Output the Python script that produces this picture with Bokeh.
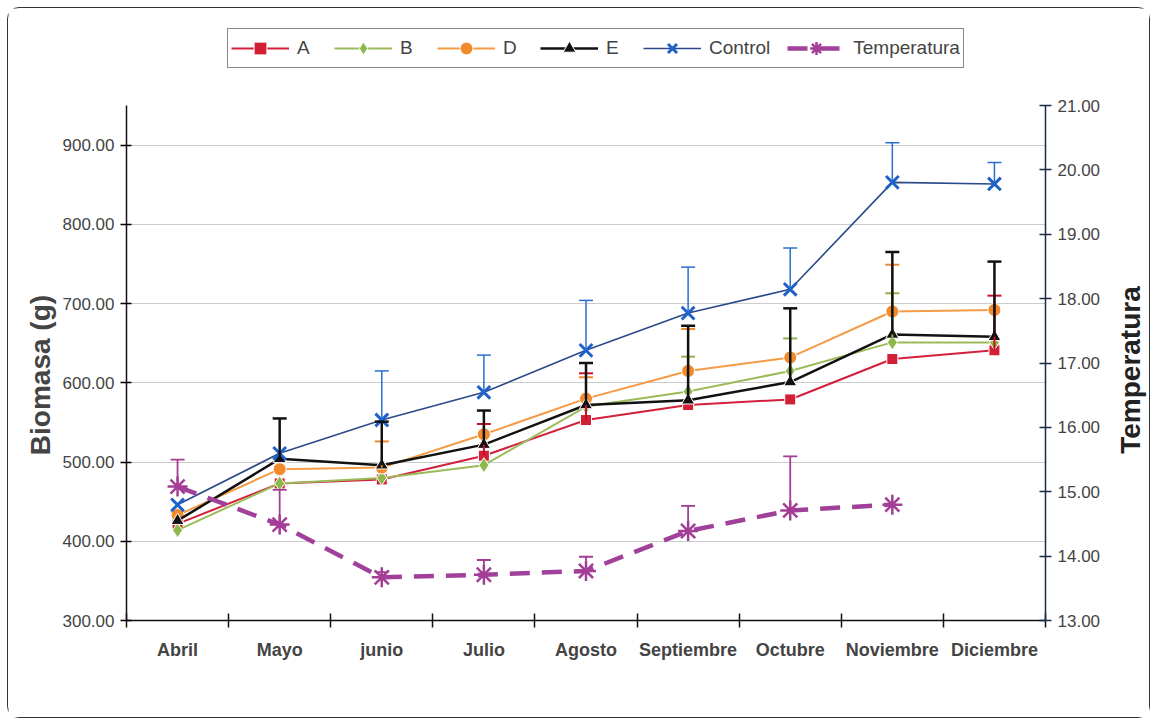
import math
from bokeh.plotting import figure
from bokeh.layouts import row
from bokeh.models import (LinearAxis, Range1d, FixedTicker, NumeralTickFormatter,
                          ColumnDataSource, Whisker, TeeHead, Legend, LegendItem)
from bokeh.core.properties import value
from bokeh.embed import file_html
from bokeh.resources import INLINE

# ---------------- data ----------------
months = ["Abril", "Mayo", "junio", "Julio", "Agosto", "Septiembre",
          "Octubre", "Noviembre", "Diciembre"]
A = [422, 473, 478, 508, 553, 572, 579, 630, 641]
B = [414, 473, 480, 496, 570, 589, 615, 651, 651]
D = [433, 491, 493, 535, 580, 615, 632, 690, 692]
E = [426, 504, 496, 522, 572, 578, 601, 661, 658]
control = [446, 511, 553, 588, 641, 688, 718, 853, 851]
temperatura = [15.08, 14.49, 13.67, 13.71, 13.77, 14.39, 14.71, 14.80]

A_err = [0, 0, 0, 40, 59, 0, 0, 0, 69]
B_err = [0, 0, 0, 0, 0, 44, 41, 62, 0]
D_err = [0, 0, 33, 0, 27, 53, 0, 59, 0]
E_err = [0, 51, 55, 43, 53, 94, 93, 104, 95]
control_err = [0, 0, 62, 47, 63, 58, 52, 50, 27]
temp_err = [0.42, 0.54, 0.08, 0.23, 0.22, 0.39, 0.84, 0.0]

left_ticks = [300, 400, 500, 600, 700, 800, 900]
left_bounds = (300, 950)
right_ticks = [13, 14, 15, 16, 17, 18, 19, 20, 21]
right_bounds = (13, 21)
right_title = "Temperatura"

FONT = "Liberation Sans"
NBSP = "\u00a0"

# ---------------- layout constants (pixels) ----------------
W, H = 1141, 709
SIDE_W = 36                       # strip at the right that holds the right axis title
W_MAIN = W - SIDE_W
MB_LEFT, MB_RIGHT, MB_TOP, MB_BOTTOM = 118, 68, 20, 97
AXIS_PX = 515                     # pixel length of the value axes
EXTRA_PX = (H - MB_TOP - MB_BOTTOM) - AXIS_PX   # room above axes for the legend
RIGHT_TITLE_Y = 300               # vertical position of the right title in the strip


def extend(lo, hi):
    return hi + (hi - lo) * EXTRA_PX / AXIS_PX


x = [i + 0.5 for i in range(len(months))]

p = figure(width=W_MAIN, height=H, x_range=Range1d(0, len(months)),
           y_range=Range1d(left_bounds[0], extend(*left_bounds)),
           output_backend="svg", toolbar_location=None,
           min_border_left=MB_LEFT, min_border_right=MB_RIGHT,
           min_border_top=MB_TOP, min_border_bottom=MB_BOTTOM)
p.extra_y_ranges = {"temp": Range1d(right_bounds[0], extend(*right_bounds))}
p.outline_line_color = None
p.background_fill_color = "white"
p.border_fill_color = "white"

# x axis
xa = p.xaxis[0]
xa.ticker = FixedTicker(ticks=x, minor_ticks=list(range(0, len(months) + 1)))
xa.major_label_overrides = {xi: m for xi, m in zip(x, months)}
xa.major_tick_in = 0
xa.major_tick_out = 0
xa.minor_tick_in = 7
xa.minor_tick_out = 7
xa.minor_tick_line_color = "#111"
xa.minor_tick_line_width = 1.5
xa.axis_line_color = "#111"
xa.axis_line_width = 1.5
xa.major_label_text_font = FONT
xa.major_label_text_font_style = "bold"
xa.major_label_text_font_size = "18px"
xa.major_label_standoff = 12

# left axis (label padded so that it sits centred on the value axis, not on the frame)
ya = p.yaxis[0]
ya.bounds = left_bounds
ya.ticker = FixedTicker(ticks=left_ticks)
ya.formatter = NumeralTickFormatter(format="0.00")
ya.major_tick_in = 5
ya.major_tick_out = 6
ya.minor_tick_line_color = None
ya.axis_line_color = "#111"
ya.axis_line_width = 1.5
ya.major_tick_line_width = 1.5
ya.major_label_text_font = FONT
ya.major_label_text_font_size = "17px"
ya.major_label_standoff = 6
ya.axis_label = "Biomasa (g)" + NBSP * 13
ya.axis_label_text_font = FONT
ya.axis_label_text_font_style = "bold"
ya.axis_label_text_font_size = "28px"
ya.axis_label_standoff = 4

# right axis
ra = LinearAxis(y_range_name="temp", ticker=FixedTicker(ticks=right_ticks),
                formatter=NumeralTickFormatter(format="0.00"), bounds=right_bounds)
ra.major_tick_in = 6
ra.major_tick_out = 6
ra.minor_tick_line_color = None
ra.axis_line_color = "#1b2a44"
ra.axis_line_width = 1.5
ra.major_tick_line_color = "#1b2a44"
ra.major_tick_line_width = 1.5
ra.major_label_text_font = FONT
ra.major_label_text_font_size = "17px"
ra.major_label_standoff = 6
p.add_layout(ra, "right")

p.xgrid.visible = False
p.ygrid.ticker = FixedTicker(ticks=left_ticks)
p.ygrid.grid_line_color = "#cccccc"
p.ygrid.grid_line_width = 1


def err_bars(xs, ys, errs, color, width, range_name="default"):
    bx, lo, hi = [], [], []
    for xi, yi, ei in zip(xs, ys, errs):
        if ei > 0:
            bx.append(xi)
            lo.append(yi)
            hi.append(yi + ei)
    src = ColumnDataSource(dict(base=bx, lower=lo, upper=hi))
    w = Whisker(source=src, base="base", lower="lower", upper="upper",
                dimension="height", line_color=color, line_width=width,
                upper_head=TeeHead(size=14, line_color=color, line_width=width),
                lower_head=None, level="glyph", y_range_name=range_name)
    p.add_layout(w)


items = []

# A
err_bars(x, A, A_err, "#c8102e", 2)
lA = p.line(x, A, line_color="#d2203c", line_width=2)
mA = p.scatter(x, A, marker="square", size=11, fill_color="#d21f35",
               line_color="white", line_width=1)
items.append(LegendItem(label="A", renderers=[lA, mA]))

# B
err_bars(x, B, B_err, "#8fb44a", 2)
lB = p.line(x, B, line_color="#9bbb59", line_width=2)
mB = p.scatter(x, B, marker="diamond", size=15, fill_color="#8db84a",
               line_color="white", line_width=1)
items.append(LegendItem(label="B", renderers=[lB, mB]))

# D
err_bars(x, D, D_err, "#f08a30", 2)
lD = p.line(x, D, line_color="#f59a45", line_width=2)
mD = p.scatter(x, D, marker="circle", size=13, fill_color="#f08a2a",
               line_color="white", line_width=1)
items.append(LegendItem(label="D", renderers=[lD, mD]))

# E
err_bars(x, E, E_err, "#111111", 2.5)
lE = p.line(x, E, line_color="#111111", line_width=2.5)
mE = p.scatter(x, E, marker="triangle", size=13, fill_color="#111111",
               line_color="white", line_width=1)
items.append(LegendItem(label="E", renderers=[lE, mE]))

# Control
err_bars(x, control, control_err, "#2a6fcf", 1.5)
lC = p.line(x, control, line_color="#2b4a8a", line_width=1.6)
mC = p.scatter(x, control, marker="x", size=18, line_color="#1c62c8",
               line_width=3)
items.append(LegendItem(label="Control", renderers=[lC, mC]))

# Temperatura
xt = x[:len(temperatura)]
err_bars(xt, temperatura, temp_err, "#a33d96", 1.8, "temp")
lT = p.line(xt, temperatura, line_color="#a0409a", line_width=4.5,
            line_dash="20 12", y_range_name="temp")
mT = p.scatter(xt, temperatura, marker="asterisk", size=20, line_color="#a33d96",
               line_width=2.5, y_range_name="temp")
items.append(LegendItem(label="Temperatura", renderers=[lT, mT]))

# legend placed in the empty band above the axes (inside the frame)
legend = Legend(items=items, orientation="horizontal",
                location=(101, H - MB_TOP - MB_BOTTOM - 40))
legend.label_text_font = FONT
legend.label_text_font_size = "19px"
legend.glyph_width = 58
legend.glyph_height = 32
legend.spacing = 17
legend.label_standoff = 8
legend.padding = 3
legend.margin = 0
legend.border_line_color = "#111"
legend.border_line_width = 1.5
legend.background_fill_color = "white"
legend.background_fill_alpha = 1
p.add_layout(legend)

# narrow strip on the right carrying the right axis title (reads bottom-to-top)
side = figure(width=SIDE_W, height=H, x_range=Range1d(0, SIDE_W), y_range=Range1d(0, H),
              output_backend="svg", toolbar_location=None,
              x_axis_location=None, y_axis_location=None,
              min_border_left=0, min_border_right=0, min_border_top=0, min_border_bottom=0)
side.outline_line_color = None
side.xgrid.visible = False
side.ygrid.visible = False
side.background_fill_color = "white"
side.border_fill_color = "white"
side.text(x=[SIDE_W / 2 - 1], y=[RIGHT_TITLE_Y], text=[right_title], angle=math.pi / 2,
          text_align="center", text_baseline="middle", text_font=value(FONT),
          text_font_style="bold", text_font_size="28px", text_color="#222")

layout = row(p, side, spacing=0)
layout.styles = {"border": "1.5px solid #333", "border-radius": "12px",
                 "margin-left": "7px", "margin-top": "7px", "background": "white"}

open("out.html", "w").write(file_html(layout, INLINE))
